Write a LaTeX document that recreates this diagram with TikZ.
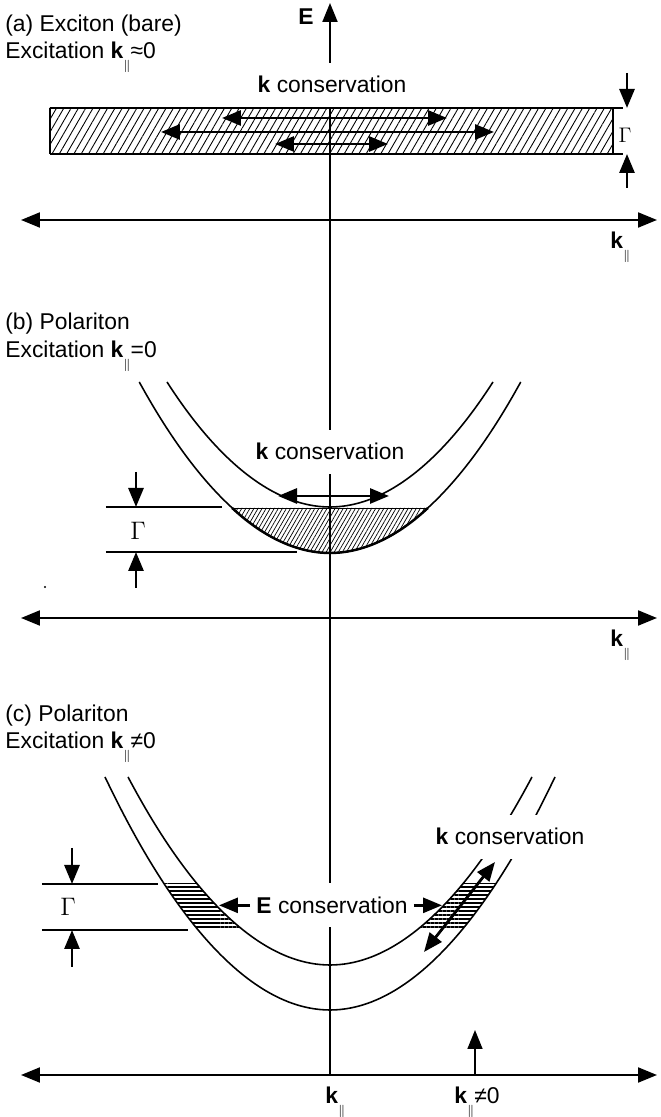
\documentclass[tikz,border=0pt]{standalone}
\usepackage{fontspec}
\setmainfont{Liberation Sans}
\usetikzlibrary{arrows.meta, patterns.meta}

\newcommand{\kpar}{\textbf{k}\raisebox{-6pt}{\fontsize{7.5}{8}\selectfont$\parallel$}}

\begin{document}
\begin{tikzpicture}[
	>={Triangle[length=3.8mm, width=3mm]},
	lbl/.style={inner sep=0pt, font=\fontsize{13}{15}\selectfont},
	cons/.style={lbl, fill=white, inner xsep=0.1cm, inner ysep=0.27cm},
	gam/.style={inner sep=0pt, font=\fontsize{14}{16}\selectfont},
	haxis/.style={<->, line width=1.2pt},
	vaxis/.style={->, line width=1.1pt},
	curve/.style={line width=0.9pt},
	gline/.style={line width=0.9pt},
	garr/.style={->, line width=1.6pt},
	karr/.style={<->, line width=1.6pt}
]
\useasboundingbox (-6.6,0) rectangle (6.62,22.34);

% energy axis
\coordinate (ax_bot) at (0,0.84);
\coordinate (ax_top) at (0,22.28);
\draw[vaxis] (ax_bot) -- (ax_top);
\node[lbl, anchor=north east] (e_lbl) at ([xshift=-0.32cm, yshift=-0.1cm]ax_top) {\textbf{E}};

% (a) bare exciton
\node[lbl, anchor=base west] (a_title) at (-6.5,21.71) {(a) Exciton (bare)};
\node[lbl, anchor=base west] (a_exc) at (-6.5,21.17) {Excitation \kpar≈0};
\coordinate (a_lt) at (-5.6,20.18);
\coordinate (a_lb) at (-5.6,19.26);
\coordinate (a_rt) at (5.86,20.18);
\coordinate (a_rb) at (5.86,19.26);
\fill[pattern={Lines[angle=60, distance=3.6pt, line width=0.5pt]}] (a_lb) rectangle (5.66,20.18);
\draw[line width=0.6pt] (a_lt) -- (a_lb) (5.66,20.18) -- (5.66,19.26);
\draw[line width=1.5pt] (a_lt) -- (a_rt) (a_lb) -- (a_rb);
\coordinate (a_k1l) at (-2.16,19.98);
\coordinate (a_k1r) at (2.34,19.98);
\coordinate (a_k2l) at (-3.38,19.70);
\coordinate (a_k2r) at (3.28,19.70);
\coordinate (a_k3l) at (-1.1,19.46);
\coordinate (a_k3r) at (1.16,19.46);
\draw[karr] (a_k1l) -- (a_k1r);
\draw[karr] (a_k2l) -- (a_k2r);
\draw[karr] (a_k3l) -- (a_k3r);
\coordinate (a_gd) at (5.94,20.88);
\coordinate (a_gu) at (5.94,18.58);
\draw[garr] (a_gd) -- (a_gd |- a_rt);
\draw[garr] (a_gu) -- (a_gu |- a_rb);
\node[gam, font=\fontsize{12}{14}\selectfont] (a_gam) at (5.9,19.64) {$\Gamma$};
\node[cons, anchor=base] (a_kcons) at (0.04,20.48) {\textbf{k} conservation};
\coordinate (a_axl) at (-6.18,17.94);
\coordinate (a_axr) at (6.54,17.94);
\draw[haxis] (a_axl) -- (a_axr);
\node[lbl, anchor=north west] (a_klbl) at (5.6,17.70) {\kpar};

% (b) polariton, k=0
\node[lbl, anchor=base west] (b_title) at (-6.5,15.74) {(b) Polariton};
\node[lbl, anchor=base west] (b_exc) at (-6.5,15.19) {Excitation \kpar=0};
\fill[pattern={Lines[angle=60, distance=2pt, line width=0.4pt]}]
	(-1.957,12.18) parabola bend (0,11.28) (1.957,12.18) -- cycle;
\draw[curve] (-3.26,14.7) parabola bend (0,12.2) (3.26,14.7);
\draw[curve] (-3.815,14.7) parabola bend (0,11.28) (3.815,14.7);
\draw[line width=0.5pt] (-1.957,12.18) -- (1.957,12.18);
\draw[line width=1.4pt] (-1.957,12.18) parabola bend (0,11.28) (1.957,12.18);
\coordinate (b_g1l) at (-4.48,12.2);
\coordinate (b_g1r) at (-2.16,12.2);
\coordinate (b_g2l) at (-4.48,11.3);
\coordinate (b_g2r) at (-0.66,11.3);
\draw[gline] (b_g1l) -- (b_g1r) (b_g2l) -- (b_g2r);
\coordinate (b_gd) at (-3.88,12.9);
\coordinate (b_gu) at (-3.88,10.58);
\draw[garr] (b_gd) -- (b_gd |- b_g1l);
\draw[garr] (b_gu) -- (b_gu |- b_g2l);
\node[gam] (b_gam) at (-3.84,11.72) {$\Gamma$};
\node[cons, anchor=base] (b_kcons) at (0,13.14) {\textbf{k} conservation};
\coordinate (b_kl) at (-1.04,12.42);
\coordinate (b_kr) at (1.18,12.42);
\draw[karr] (b_kl) -- (b_kr);
\fill (-5.7,10.6) circle (0.6pt);
\coordinate (b_axl) at (-6.18,9.98);
\coordinate (b_axr) at (6.54,9.98);
\draw[haxis] (b_axl) -- (b_axr);
\node[lbl, anchor=north west] (b_klbl) at (5.6,9.74) {\kpar};

% (c) polariton, k not 0
\node[lbl, anchor=base west] (c_title) at (-6.5,7.91) {(c) Polariton};
\node[lbl, anchor=base west] (c_exc) at (-6.5,7.36) {Excitation \kpar≠0};
\begin{scope}
	\clip (-6.6,3.74) rectangle (6.6,4.66);
	\fill[pattern={Lines[angle=0, distance=2.3pt, line width=1.1pt]}, even odd rule]
		(-4.5,6.8) parabola bend (0,2.14) (4.5,6.8) -- cycle
		(-4.04,6.8) parabola bend (0,3.04) (4.04,6.8) -- cycle;
\end{scope}
\draw[curve] (-4.04,6.8) parabola bend (0,3.04) (4.04,6.8);
\draw[curve] (-4.5,6.8) parabola bend (0,2.14) (4.5,6.8);
\coordinate (c_g1l) at (-5.76,4.66);
\coordinate (c_g1r) at (-3.44,4.66);
\coordinate (c_g2l) at (-5.76,3.74);
\coordinate (c_g2r) at (-2.84,3.74);
\draw[gline] (c_g1l) -- (c_g1r) (c_g2l) -- (c_g2r);
\coordinate (c_gd) at (-5.16,5.38);
\coordinate (c_gu) at (-5.16,3.0);
\draw[garr] (c_gd) -- (c_gd |- c_g1l);
\draw[garr] (c_gu) -- (c_gu |- c_g2l);
\node[gam] (c_gam) at (-5.24,4.2) {$\Gamma$};
\node[cons, inner xsep=0.12cm, anchor=base] (c_econs) at (0.04,4.07) {\textbf{E} conservation};
\coordinate (c_el) at (-2.22,4.22);
\coordinate (c_er) at (2.24,4.22);
\draw[garr] (c_econs.west) -- (c_econs.west -| c_el);
\draw[garr] (c_econs.east) -- (c_econs.east -| c_er);
\node[cons, anchor=base] (c_kcons) at (3.6,5.44) {\textbf{k} conservation};
\coordinate (c_kl) at (1.88,3.3);
\coordinate (c_ku) at (3.3,5.1);
\draw[karr] (c_kl) -- (c_ku);
\coordinate (c_axl) at (-6.18,0.84);
\coordinate (c_axr) at (6.54,0.84);
\draw[haxis] (c_axl) -- (c_axr);
\coordinate (c_kup) at (2.9,1.74);
\draw[->, curve] (c_kup |- c_axl) -- (c_kup);
\node[lbl, anchor=north west] (c_klbl) at (-0.1,0.6) {\kpar};
\node[lbl, anchor=north west] (c_kne) at (2.48,0.6) {\kpar≠0};

\end{tikzpicture}
\end{document}
